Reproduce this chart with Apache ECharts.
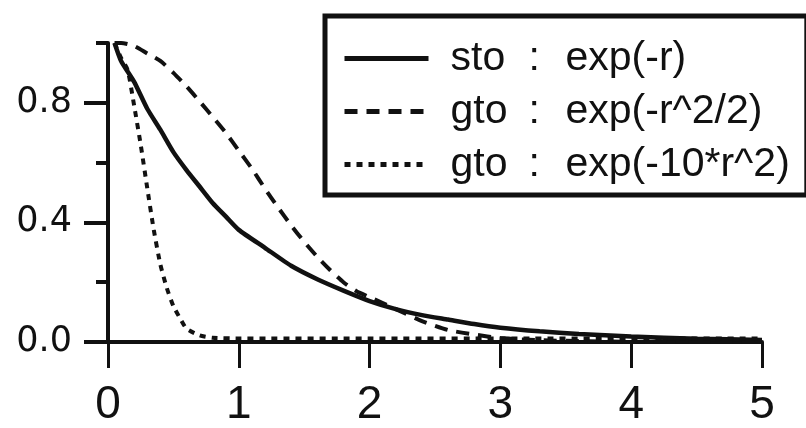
<!DOCTYPE html>
<html>
<head>
<meta charset="utf-8">
<script src="https://cdn.jsdelivr.net/npm/echarts@6/dist/echarts.min.js"></script>
<style>
html, body { margin: 0; padding: 0; background: #fff; }
#chart { width: 806px; height: 428px; }
</style>
</head>
<body>
<div id="chart"></div>
<script>
// sto : exp(-r)
var stoR = [0.05, 0.1, 0.2, 0.3, 0.4, 0.5, 0.6, 0.7, 0.8, 0.9, 1.0, 1.2, 1.4, 1.6, 1.8, 2.0, 2.2, 2.4, 2.6, 2.8, 3.0, 3.3, 3.6, 4.0, 4.5, 5.0];
var stoV = [1.0, 0.94, 0.87, 0.78, 0.71, 0.635, 0.575, 0.52, 0.465, 0.42, 0.375, 0.315, 0.255, 0.21, 0.172, 0.137, 0.11, 0.09, 0.075, 0.06, 0.048, 0.036, 0.027, 0.018, 0.011, 0.007];
// gto : exp(-r^2/2)
var gtoAR = [0.05, 0.1, 0.2, 0.3, 0.4, 0.5, 0.6, 0.7, 0.8, 0.9, 1.0, 1.1, 1.2, 1.3, 1.4, 1.5, 1.6, 1.7, 1.8, 1.9, 2.0, 2.2, 2.4, 2.6, 2.8, 3.0, 3.3, 3.6, 4.0, 5.0];
var gtoAV = [1.0, 1.0, 0.99, 0.965, 0.94, 0.9, 0.855, 0.805, 0.753, 0.70, 0.64, 0.58, 0.513, 0.45, 0.39, 0.335, 0.285, 0.24, 0.2, 0.17, 0.15, 0.11, 0.07, 0.04, 0.025, 0.013, 0.006, 0.003, 0.001, 0];
// gto : exp(-10*r^2)
var gtoBR = [0.05, 0.1, 0.15, 0.2, 0.25, 0.3, 0.35, 0.4, 0.45, 0.5, 0.55, 0.6, 0.7, 0.8, 1.0, 2.0, 3.0, 4.0, 5.0];
var gtoBV = [1.0, 0.95, 0.91, 0.79, 0.66, 0.515, 0.375, 0.26, 0.18, 0.12, 0.08, 0.045, 0.022, 0.014, 0.012, 0.012, 0.012, 0.012, 0.012];

var seriesNames = ['sto : exp(-r)', 'gto : exp(-r^2/2)', 'gto : exp(-10*r^2)'];
var xTicks = [0, 1, 2, 3, 4, 5];
var yMajor = [0, 0.4, 0.8];
var yMinor = [0.2, 0.6, 1.0];

function pairs(xs, ys) {
	var out = [];
	for (var i = 0; i < xs.length; i++) {
		out.push([xs[i], ys[i]]);
	}
	return out;
}

var ink = '#111';
var chart = echarts.init(document.getElementById('chart'));

var option = {
	backgroundColor: '#fff',
	animation: false,
	grid: { left: 108, right: 44, top: 43, bottom: 86 },
	legend: {
		orient: 'vertical',
		left: 325,
		top: 16,
		padding: [22, 17, 10, 17],
		itemWidth: 84,
		itemHeight: 14,
		itemGap: 12,
		borderColor: ink,
		borderWidth: 5,
		data: seriesNames,
		itemStyle: { opacity: 0 },
		lineStyle: { width: 5 },
		formatter: function (name) {
			var p = name.split(' : ');
			return '{a|' + p[0] + '}{b|:}{c|' + p[1] + '}';
		},
		textStyle: {
			color: ink,
			rich: {
				a: { fontFamily: 'Liberation Sans', fontSize: 41, lineHeight: 40, color: ink, width: 78, padding: [0, 0, 0, 17] },
				b: { fontFamily: 'Liberation Sans', fontSize: 41, lineHeight: 40, color: ink, width: 37 },
				c: { fontFamily: 'Liberation Sans', fontSize: 41, lineHeight: 40, color: ink }
			}
		}
	},
	xAxis: {
		type: 'value',
		min: 0,
		max: 5,
		interval: 1,
		axisLine: { lineStyle: { color: ink, width: 4 } },
		axisTick: { length: 26, lineStyle: { color: ink, width: 3 }, customValues: xTicks },
		axisLabel: { color: ink, fontFamily: 'Liberation Sans', fontSize: 46, margin: 40, customValues: xTicks },
		splitLine: { show: false }
	},
	yAxis: [{
		type: 'value',
		min: 0,
		max: 1,
		axisLine: { show: true, lineStyle: { color: ink, width: 4 } },
		axisTick: { show: true, length: 24, lineStyle: { color: ink, width: 4 }, customValues: yMajor },
		axisLabel: {
			color: ink, fontFamily: 'DejaVu Sans', fontSize: 35, margin: 36, customValues: yMajor,
			formatter: function (v) { return v.toFixed(1); }
		},
		splitLine: { show: false }
	}, {
		type: 'value',
		min: 0,
		max: 1,
		position: 'left',
		axisLine: { show: false },
		axisTick: { show: true, length: 12, lineStyle: { color: ink, width: 4 }, customValues: yMinor },
		axisLabel: { show: false },
		splitLine: { show: false }
	}],
	series: [{
		name: seriesNames[0],
		type: 'line',
		symbol: 'none',
		smooth: 0.2,
		data: pairs(stoR, stoV),
		lineStyle: { color: ink, width: 4.5, type: 'solid' },
		itemStyle: { color: ink }
	}, {
		name: seriesNames[1],
		type: 'line',
		symbol: 'none',
		smooth: 0.2,
		data: pairs(gtoAR, gtoAV),
		lineStyle: { color: ink, width: 4, type: [13, 9] },
		itemStyle: { color: ink }
	}, {
		name: seriesNames[2],
		type: 'line',
		symbol: 'none',
		smooth: 0.2,
		data: pairs(gtoBR, gtoBV),
		lineStyle: { color: ink, width: 4, type: [6, 6] },
		itemStyle: { color: ink }
	}]
};

chart.setOption(option);
</script>
</body>
</html>
